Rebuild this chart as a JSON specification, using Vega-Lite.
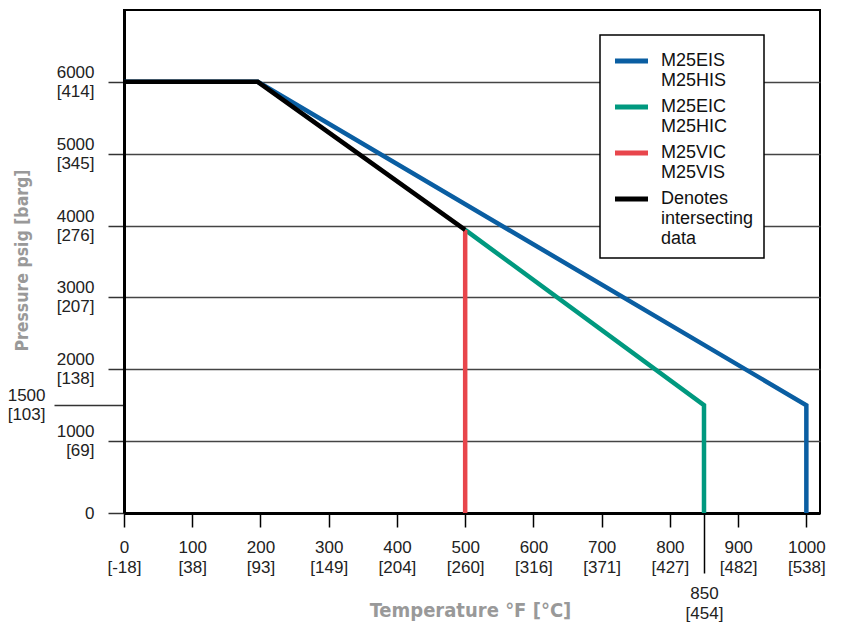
{
  "$schema": "https://vega.github.io/schema/vega-lite/v6.json",
  "width": 696,
  "height": 503,
  "autosize": "none",
  "padding": {"left": 124, "top": 10, "right": 22, "bottom": 112},
  "background": "white",
  "config": {
    "view": {"stroke": "black", "strokeWidth": 2},
    "font": "Liberation Sans"
  },
  "data": {
    "values": [
      {"series": "M25EIS|M25HIS", "idx": 1, "temp": 0, "psi": 6000},
      {"series": "M25EIS|M25HIS", "idx": 2, "temp": 196, "psi": 6000},
      {"series": "M25EIS|M25HIS", "idx": 3, "temp": 1000, "psi": 1500},
      {"series": "M25EIS|M25HIS", "idx": 4, "temp": 1000, "psi": 0},
      {"series": "M25EIC|M25HIC", "idx": 1, "temp": 500, "psi": 3940},
      {"series": "M25EIC|M25HIC", "idx": 2, "temp": 850, "psi": 1500},
      {"series": "M25EIC|M25HIC", "idx": 3, "temp": 850, "psi": 0},
      {"series": "M25VIC|M25VIS", "idx": 1, "temp": 500, "psi": 3940},
      {"series": "M25VIC|M25VIS", "idx": 2, "temp": 500, "psi": 0},
      {"series": "Denotes|intersecting|data", "idx": 1, "temp": 0, "psi": 6000},
      {"series": "Denotes|intersecting|data", "idx": 2, "temp": 196, "psi": 6000},
      {"series": "Denotes|intersecting|data", "idx": 3, "temp": 500, "psi": 3940}
    ]
  },
  "mark": {"type": "line", "strokeWidth": 4.5, "strokeCap": "butt", "strokeJoin": "miter", "clip": false},
  "encoding": {
    "x": {
      "field": "temp",
      "type": "quantitative",
      "scale": {"domain": [0, 1020], "nice": false, "zero": false},
      "axis": {
        "values": [0, 100, 200, 300, 400, 500, 600, 700, 800, 850, 900, 1000],
        "title": "Temperature °F [°C]",
        "labelExpr": "[toString(datum.value), '[' + round((datum.value - 32) * 5 / 9) + ']']",
        "grid": false,
        "domainWidth": 3,
        "domainColor": "black",
        "tickColor": "black",
        "tickWidth": 1.5,
        "tickSize": {"condition": {"test": "datum.value == 850", "value": 60}, "value": 14},
        "labelPadding": 12,
        "labelFontSize": 17,
        "labelColor": "#222222",
        "labelLineHeight": 20,
        "labelBaseline": "top",
        "labelFlush": false,
        "labelOverlap": false,
        "titleFont": "Liberation Sans Narrow, DejaVu Sans Condensed, sans-serif",
        "titleFontSize": 20,
        "titleFontWeight": "bold",
        "titleColor": "#999999",
        "titleX": 346,
        "titleY": 97,
        "titleBaseline": "middle"
      }
    },
    "y": {
      "field": "psi",
      "type": "quantitative",
      "scale": {"domain": [0, 7000], "nice": false, "zero": false},
      "axis": {
        "values": [0, 1000, 1500, 2000, 3000, 4000, 5000, 6000],
        "title": "Pressure psig [barg]",
        "labelExpr": "datum.value == 0 ? '0' : [toString(datum.value), '[' + round(datum.value * 0.0689476) + ']']",
        "grid": true,
        "gridColor": "#444444",
        "gridWidth": 1.5,
        "gridOpacity": {"condition": {"test": "datum.value == 1500 || datum.value == 0", "value": 0}, "value": 1},
        "domainWidth": 3,
        "domainColor": "black",
        "tickColor": "#333333",
        "tickWidth": 1.5,
        "tickSize": {"condition": {"test": "datum.value == 1500", "value": 70}, "value": 16},
        "labelPadding": {"condition": {"test": "datum.value == 1500", "value": 9}, "value": 14},
        "labelOffset": {"condition": {"test": "datum.value == 0", "value": 0}, "value": -9.5},
        "labelFontSize": 17,
        "labelColor": "#222222",
        "labelLineHeight": 19,
        "labelBaseline": "middle",
        "labelFlush": false,
        "labelOverlap": false,
        "titleFont": "Liberation Sans Narrow, DejaVu Sans Condensed, sans-serif",
        "titleFontSize": 17.5,
        "titleFontWeight": "bold",
        "titleColor": "#999999",
        "titleX": -102,
        "titleY": 250,
        "titleBaseline": "middle"
      }
    },
    "color": {
      "field": "series",
      "type": "nominal",
      "scale": {
        "domain": ["M25EIS|M25HIS", "M25EIC|M25HIC", "M25VIC|M25VIS", "Denotes|intersecting|data"],
        "range": ["#0a5ea2", "#00997f", "#e8464c", "#000000"]
      },
      "legend": {
        "title": null,
        "orient": "none",
        "legendX": 476,
        "legendY": 25,
        "labelExpr": "split(datum.label, '|')",
        "labelFontSize": 18,
        "labelColor": "#111111",
        "labelLineHeight": 18,
        "labelLimit": 300,
        "labelOffset": 19,
        "symbolType": "M-0.815,0H1.63",
        "symbolStrokeWidth": 5,
        "symbolSize": 729,
        "rowPadding": 1,
        "padding": 10,
        "strokeColor": "black",
        "fillColor": "white",
        "encode": {"legend": {"update": {"strokeWidth": {"value": 1.5}}}}
      }
    },
    "order": {"field": "idx", "type": "quantitative"}
  }
}
